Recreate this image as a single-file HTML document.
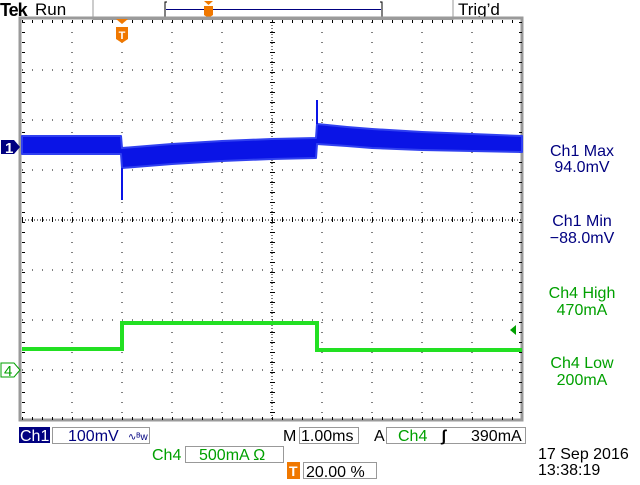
<!DOCTYPE html>
<html><head><meta charset="utf-8"><style>
body{margin:0;background:#fff;width:640px;height:480px;overflow:hidden;font-family:"Liberation Sans",sans-serif}
svg text{font-family:"Liberation Sans",sans-serif}
</style></head><body>
<svg id="scope" width="640" height="480" viewBox="0 0 640 480">
<g>
 <text x="0" y="16" font-size="18" font-weight="bold" letter-spacing="-1">Tek</text>
 <text x="35" y="15" font-size="17">Run</text>
 <line x1="93" y1="0" x2="93" y2="20" stroke="#999"/><line x1="93" y1="19.5" x2="453" y2="19.5" stroke="#999"/><line x1="453" y1="0" x2="453" y2="20" stroke="#999"/>
 <path d="M167,2 h-2 v16 h2 M380,2 h2 v16 h-2" fill="none" stroke="#000"/>
 <line x1="166" y1="9.5" x2="381" y2="9.5" stroke="#000080" stroke-width="1"/>
 <path d="M204,1 h9 l-4.5,4 z M204,6 h9 v9 l-4.5,3 l-4.5,-3 z" fill="#f07800"/>
 <text x="458" y="15" font-size="17">Trig’d</text>
</g>
<g id="grat"></g>
<g id="traces"></g>
<g>
 <path d="M116,19 h12 l-6,5 z M116,27 h12 v12 l-6,4 l-6,-4 z" fill="#f07800"/>
 <text x="122" y="39" font-size="11" font-weight="bold" fill="#fff" text-anchor="middle">T</text>
 <path d="M1,140 h13 l6,7 l-6,7 h-13 z" fill="#000080"/>
 <text x="5" y="153" font-size="15" font-weight="bold" fill="#fff">1</text>
 <path d="M1,363 h13 l6,7 l-6,7 h-13 z" fill="#fff" stroke="#00a000"/>
 <text x="4" y="376" font-size="15" fill="#00a000">4</text>
 <path d="M510,330 l6,-5 v10 z" fill="#00a000"/>
</g>
<g font-size="16" text-anchor="middle">
 <text x="582" y="156" fill="#000080">Ch1 Max</text>
 <text x="582" y="172" fill="#000080">94.0mV</text>
 <text x="582" y="226" fill="#000080">Ch1 Min</text>
 <text x="582" y="243" fill="#000080">−88.0mV</text>
 <text x="582" y="298" fill="#00a000">Ch4 High</text>
 <text x="582" y="315" fill="#00a000">470mA</text>
 <text x="582" y="368" fill="#00a000">Ch4 Low</text>
 <text x="582" y="385" fill="#00a000">200mA</text>
</g>
<g font-size="16">
 <rect x="19" y="427" width="31" height="16" fill="#000080"/>
 <text x="20" y="441" fill="#fff">Ch1</text>
 <rect x="52.5" y="427.5" width="97" height="16" fill="none" stroke="#999"/>
 <text x="68" y="441" fill="#000080">100mV</text>
 <text x="128" y="440" font-size="10" fill="#000080">∿ᴮw</text>
 <text x="283" y="441" fill="#000">M</text>
 <rect x="299.5" y="427.5" width="59" height="16" fill="none" stroke="#999"/>
 <text x="301" y="441">1.00ms</text>
 <text x="374" y="441">A</text>
 <rect x="386.5" y="427.5" width="139" height="16" fill="none" stroke="#999"/>
 <text x="398" y="441" fill="#00a000">Ch4</text>
 <text x="441" y="441" font-weight="bold">ʃ</text>
 <text x="471" y="441">390mA</text>
 <text x="152" y="460" fill="#00a000">Ch4</text>
 <rect x="185.5" y="446.5" width="98" height="16" fill="none" stroke="#999"/>
 <text x="199" y="460" fill="#00a000">500mA Ω</text>
 <rect x="287" y="462" width="13" height="17" fill="#f07800"/>
 <text x="289" y="476" fill="#fff" font-weight="bold" font-size="14">T</text>
 <rect x="303.5" y="462.5" width="73" height="16" fill="none" stroke="#999"/>
 <text x="306" y="477">20.00 %</text>
 <text x="538" y="459">17 Sep  2016</text>
 <text x="538" y="475">13:38:19</text>
</g>
</svg>
<script>
// Ch1 envelope (time in ms, mV)
const ch1Times = [-2, -0.02, 0, 0.5, 1, 2, 3, 3.88, 3.9, 4.5, 5, 6, 7, 8];
const ch1Upper = [22, 22, -2, 2, 6, 12, 16, 18, 46, 40, 36, 30, 26, 22];
const ch1Lower = [-14, -14, -42, -38, -34, -28, -24, -22, 6, 2, -2, -6, -8, -10];
const ch1SpikeTimes = [0, 3.9];
const ch1SpikeValues = [-106, 94];
// Ch4 (time in ms, mA)
const ch4Times = [-2, 0, 0, 3.9, 3.9, 8];
const ch4Values = [210, 210, 470, 470, 200, 200];

const X0 = 22, DIV = 50;
const xs = t => X0 + (t + 2) * DIV;
const y1 = mv => 147 - mv * 0.5;
const y4 = ma => 370 - ma * 0.1;
const NS = 'http://www.w3.org/2000/svg';
const mk = (tag, attrs, parent) => { const e = document.createElementNS(NS, tag); for (const k in attrs) e.setAttribute(k, attrs[k]); parent.appendChild(e); return e; };

const g = document.getElementById('grat');
mk('rect', {x: 20, y: 18, width: 502, height: 402, fill: 'none', stroke: '#9a9a9a', 'stroke-width': 3}, g);
for (let i = 1; i < 10; i++) {
  const x = X0 + i * DIV;
  for (let y = 22; y < 420; y += (i === 5 ? 3 : 10)) mk('rect', {x: x - 0.5, y: y, width: 1, height: 1, fill: '#000'}, g);
}
for (let j = 1; j < 8; j++) {
  const y = 20 + j * DIV;
  for (let x = 22; x < 522; x += (j === 4 ? 3 : 10)) mk('rect', {x: x, y: y - 0.5, width: 1, height: 1, fill: '#000'}, g);
}
for (let x = 22; x < 522; x += 10) { mk('rect', {x: x, y: 20, width: 1, height: 3, fill: '#000'}, g); mk('rect', {x: x, y: 417, width: 1, height: 3, fill: '#000'}, g); mk('rect', {x: x, y: 217, width: 1, height: 5, fill: '#000'}, g); }
for (let y = 22; y < 420; y += 10) { mk('rect', {x: 22, y: y, width: 3, height: 1, fill: '#000'}, g); mk('rect', {x: 519, y: y, width: 3, height: 1, fill: '#000'}, g); mk('rect', {x: 270, y: y, width: 5, height: 1, fill: '#000'}, g); }

const tr = document.getElementById('traces');
let pts = ch1Times.map((t, i) => xs(t) + ',' + y1(ch1Upper[i]));
pts = pts.concat(ch1Times.map((t, i) => xs(t) + ',' + y1(ch1Lower[i])).reverse());
const band = mk('polygon', {points: pts.join(' '), fill: '#0a14e6', stroke: '#3040f0', 'stroke-width': 2, 'stroke-linejoin': 'round'}, tr);


ch1SpikeTimes.forEach((t, i) => {
  const base = ch1SpikeValues[i] < 0 ? ch1Lower[ch1Times.indexOf(t)] : ch1Upper[ch1Times.indexOf(t)];
  const s = mk('line', {x1: xs(t), x2: xs(t), y1: y1(base), y2: y1(ch1SpikeValues[i]), stroke: '#0a14e6', 'stroke-width': 2}, tr);
  
  
});
const p4 = mk('polyline', {points: ch4Times.map((t, i) => xs(t) + ',' + y4(ch4Values[i])).join(' '), fill: 'none', stroke: '#22e022', 'stroke-width': 4}, tr);


</script>
</body></html>
